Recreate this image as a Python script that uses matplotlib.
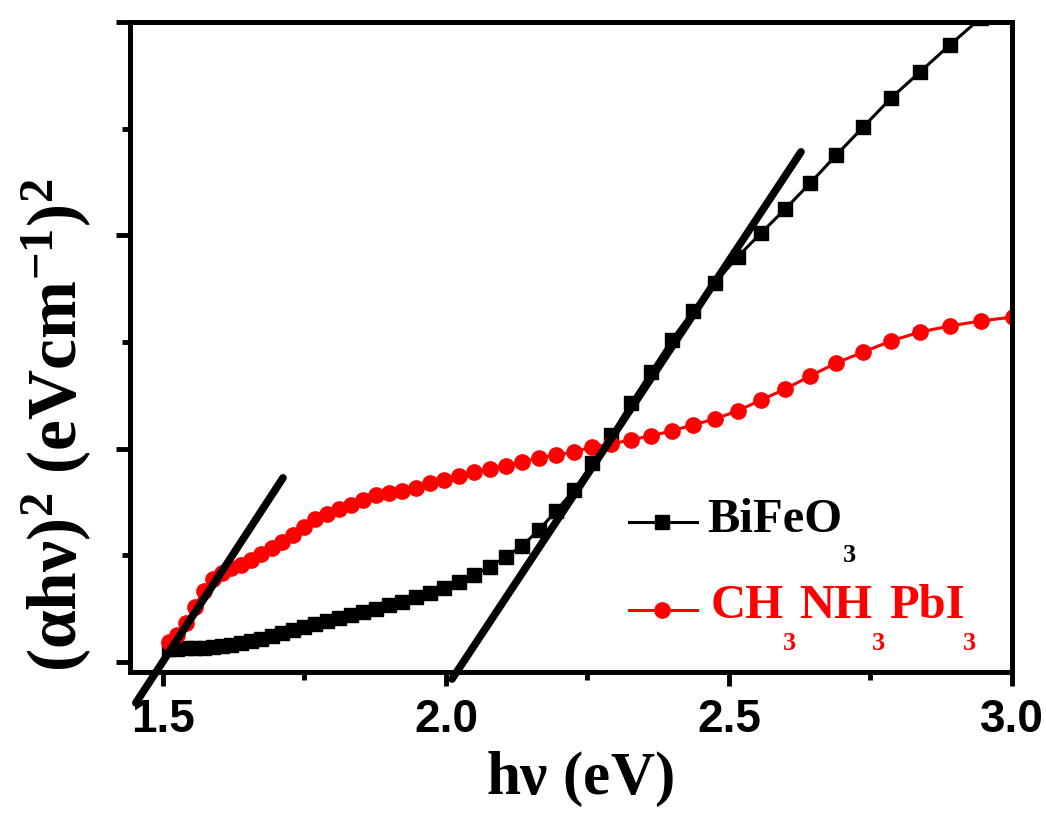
import matplotlib
matplotlib.use('Agg')
from matplotlib import pyplot as plt
from matplotlib.ticker import MultipleLocator, NullFormatter

# photon energy (eV), shared by both samples
energy = [1.5104, 1.5252, 1.5404, 1.5558, 1.5716, 1.5877, 1.6041, 1.6209, 1.6380,
          1.6555, 1.6734, 1.6917, 1.7103, 1.7294, 1.7489, 1.7689, 1.7893, 1.8102,
          1.8316, 1.8535, 1.8759, 1.8989, 1.9225, 1.9466, 1.9714, 1.9968, 2.0228,
          2.0496, 2.0771, 2.1053, 2.1343, 2.1640, 2.1947, 2.2262, 2.2587, 2.2921,
          2.3265, 2.3619, 2.3985, 2.4361, 2.4750, 2.5152, 2.5567, 2.5996, 2.6439,
          2.6898, 2.7373, 2.7865, 2.8375, 2.8904, 2.9454, 3.0024]

# (alpha h nu)^2, arbitrary units
bifeo3 = [0.061, 0.061, 0.066, 0.066, 0.066, 0.070, 0.075, 0.080, 0.089,
          0.098, 0.108, 0.122, 0.136, 0.150, 0.164, 0.178, 0.192, 0.206,
          0.220, 0.234, 0.248, 0.267, 0.281, 0.305, 0.323, 0.347, 0.375,
          0.408, 0.445, 0.492, 0.544, 0.619, 0.708, 0.806, 0.933, 1.064,
          1.214, 1.360, 1.510, 1.646, 1.777, 1.899, 2.011, 2.124, 2.246,
          2.377, 2.508, 2.644, 2.766, 2.893, 3.020, 3.150]

mapbi3 = [0.094, 0.127, 0.183, 0.258, 0.333, 0.389, 0.417, 0.441, 0.455,
          0.478, 0.506, 0.534, 0.563, 0.595, 0.633, 0.670, 0.694, 0.717,
          0.736, 0.759, 0.783, 0.792, 0.802, 0.816, 0.839, 0.853, 0.872,
          0.891, 0.905, 0.919, 0.938, 0.956, 0.970, 0.985, 1.008, 1.022,
          1.041, 1.060, 1.083, 1.111, 1.139, 1.177, 1.228, 1.280, 1.341,
          1.402, 1.453, 1.505, 1.547, 1.575, 1.599, 1.617]

# linear fits (end points)
fit1_x = [1.452, 1.712]
fit1_y = [-0.192, 0.863]
fit2_x = [2.0106, 2.6272]
fit2_y = [-0.080, 2.391]

serif = 'Liberation Serif'
sans = 'Liberation Sans'
plt.rcParams['mathtext.fontset'] = 'custom'
plt.rcParams['mathtext.rm'] = 'Liberation Serif:bold'
plt.rcParams['mathtext.it'] = 'Liberation Serif:bold'
plt.rcParams['mathtext.bf'] = 'Liberation Serif:bold'

fig = plt.figure(figsize=(10.46, 8.21), dpi=100)
ax = fig.add_axes([130 / 1046, 149 / 821, 882 / 1046, 650 / 821])

ax.plot(energy, bifeo3, color='black', lw=2.2, marker='s', ms=9.5)
ax.plot(energy, mapbi3, color='red', lw=2.2, marker='o', ms=11)

ax.plot(fit1_x, fit1_y, color='black', lw=5.5, solid_capstyle='round', clip_on=False)
ax.plot(fit2_x, fit2_y, color='black', lw=5.5, solid_capstyle='round', clip_on=False)

ax.set_xlim(1.4417, 3.0)
ax.set_ylim(-0.047, 3.0)

ax.xaxis.set_major_locator(MultipleLocator(0.5))
ax.xaxis.set_minor_locator(MultipleLocator(0.25))
ax.yaxis.set_major_locator(MultipleLocator(1.0))
ax.yaxis.set_minor_locator(MultipleLocator(0.5))
ax.yaxis.set_major_formatter(NullFormatter())
ax.xaxis.set_major_formatter(plt.FuncFormatter(lambda v, p: '%.1f' % v))

for s in ax.spines.values():
    s.set_linewidth(3.6)
ax.tick_params(which='both', direction='out', width=3.5, top=False, right=False)
ax.tick_params(which='major', length=10)
ax.tick_params(which='minor', length=6)
ax.tick_params(axis='x', pad=9, labelsize=33)
for lab in ax.get_xticklabels():
    lab.set_fontfamily(sans)
    lab.set_fontweight('bold')

ax.set_xlabel(r'h$\nu$ (eV)', fontfamily=serif, fontweight='bold', fontsize=44, va='center')
ax.xaxis.set_label_coords(0.51, -0.165)
ax.set_ylabel(r'($\alpha$h$\nu$)$^{2}$ (eVcm$^{-1}$)$^{2}$', fontfamily=serif,
              fontweight='bold', fontsize=50, va='center')
ax.yaxis.set_label_coords(-0.083, 0.38)

# hand-made legend
tr = ax.transAxes
ax.plot([0.566, 0.643], [0.2308, 0.2308], color='black', lw=2.2, transform=tr, clip_on=False)
ax.plot([0.603], [0.2308], color='black', marker='s', ms=9.5, transform=tr, clip_on=False)
ax.plot([0.566, 0.643], [0.0954, 0.0954], color='red', lw=2.2, transform=tr, clip_on=False)
ax.plot([0.603], [0.0954], color='red', marker='o', ms=11, transform=tr, clip_on=False)

big = dict(fontfamily=serif, fontweight='bold', fontsize=35, transform=tr, va='baseline')
small = dict(fontfamily=serif, fontweight='bold', fontsize=19, transform=tr, va='baseline')
ax.text(0.655, 0.2154, 'BiFeO', color='black', **big)
ax.text(0.808, 0.169, '3', color='black', **small)
ax.text(0.658, 0.083, 'CH', color='red', **big)
ax.text(0.7585, 0.083, 'NH', color='red', **big)
ax.text(0.8605, 0.083, 'PbI', color='red', **big)
for xs in [0.740, 0.841, 0.944]:
    ax.text(xs, 0.034, '3', color='red', **small)

fig.savefig('out.png', dpi=100)
